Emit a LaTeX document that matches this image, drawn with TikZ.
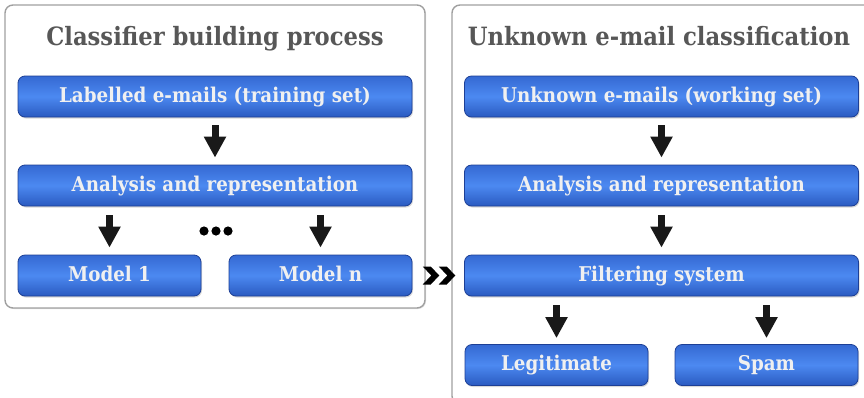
\documentclass[tikz,border=0pt]{standalone}
\usepackage{fontspec}
\setmainfont{DejaVu Serif}[FakeStretch=0.9]
\usepackage{tikz}
\usepackage{xcolor}
\usetikzlibrary{positioning,shapes,shadows,arrows,arrows.meta}

\definecolor{panelgray}{HTML}{A0A0A0}
\definecolor{titlegray}{HTML}{575757}
\definecolor{boxedge}{HTML}{1D3F95}
\definecolor{boxtop}{HTML}{3569D2}
\definecolor{boxmid}{HTML}{4C89F1}
\definecolor{boxbot}{HTML}{2A5AC0}

\begin{document}
\begin{tikzpicture}[x=1pt,y=-1pt]
\tikzstyle{panel}=[draw=panelgray, line width=1.4pt, rounded corners=8pt, fill=white,
  drop shadow={opacity=0.25, shadow xshift=1pt, shadow yshift=-1pt}]
\tikzstyle{paneltitle}=[font=\bfseries\fontsize{25.2}{29}\selectfont, text=titlegray,
  inner sep=0pt, anchor=base]
\tikzstyle{stepbox}=[draw=boxedge, line width=0.8pt, rounded corners=7pt,
  top color=boxtop, bottom color=boxbot, middle color=boxmid,
  minimum height=41pt, inner sep=0pt, text height=15pt, text depth=4pt,
  text=white!94!black, font=\bfseries\fontsize{20.3}{23}\selectfont,
  drop shadow={opacity=0.3, shadow xshift=1pt, shadow yshift=-1.5pt}]
\tikzstyle{widebox}=[stepbox, minimum width=394pt]
\tikzstyle{halfbox}=[stepbox, minimum width=183pt]
\tikzstyle{flow}=[line width=7pt, black!90, -{Triangle[width=21pt,length=21pt]}]
\useasboundingbox (0,0) rectangle (864,397);

% panels
\draw [panel] (5,5) rectangle (425,308);
\draw [panel] (452,5) rectangle (872,404);
\node [paneltitle] (t1) at (215,45) {Classifier building process};
\node [paneltitle] (t2) at (659,45) {Unknown e-mail classification};

% classifier building
\node [widebox] (lab) at (215,96.5) {Labelled e-mails (training set)};
\node [widebox] (ana1) at (215,185.5) {Analysis and representation};
\node [halfbox] (mod1) at (109.5,275.5) {Model 1};
\node [halfbox] (modn) at (320.5,275.5) {Model n};
\draw [flow, shorten <=8pt, shorten >=7pt] (lab) -- (ana1);
\draw [flow, shorten <=9pt, shorten >=7pt] (mod1.north |- ana1.south) -- (mod1.north);
\draw [flow, shorten <=9pt, shorten >=7pt] (modn.north |- ana1.south) -- (modn.north);
\foreach \x in {204,216,228}
  \fill [black] (\x,231) circle (4.6);

% unknown e-mail classification
\node [widebox] (unk) at (661.5,96.5) {Unknown e-mails (working set)};
\node [widebox] (ana2) at (661.5,185.5) {Analysis and representation};
\node [widebox] (filt) at (661.5,275.5) {Filtering system};
\node [halfbox] (legit) at (556.5,365) {Legitimate};
\node [halfbox] (spam) at (766.5,365) {Spam};
\draw [flow, shorten <=8pt, shorten >=7pt] (unk) -- (ana2);
\draw [flow, shorten <=9pt, shorten >=7pt] (ana2) -- (filt);
\draw [flow, shorten <=9pt, shorten >=6pt] (legit.north |- filt.south) -- (legit.north);
\draw [flow, shorten <=9pt, shorten >=6pt] (spam.north |- filt.south) -- (spam.north);

% models feed the filter
\path (modn.east) -- (filt.west) coordinate [pos=0.5] (chev);
\foreach \d in {0,16}
  \fill [black] ([xshift=\d pt]chev) ++(-15.5,-9) -- ++(8,0) -- ++(8.5,9)
    -- ++(-8.5,9) -- ++(-8,0) -- ++(8.5,-9) -- cycle;
\end{tikzpicture}
\end{document}
